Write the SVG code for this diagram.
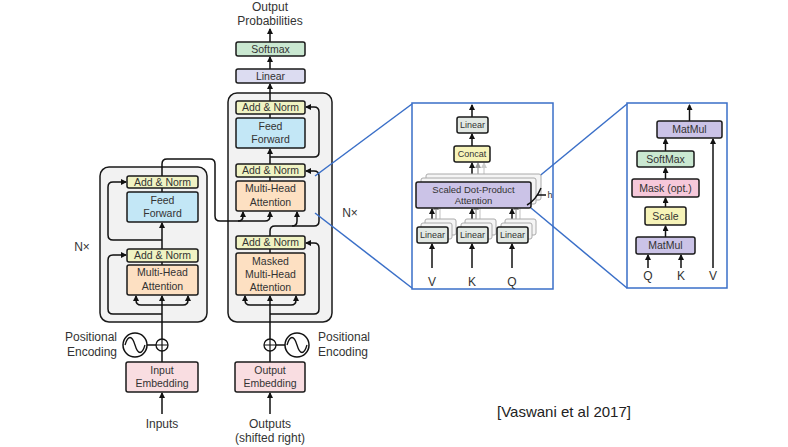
<svg xmlns="http://www.w3.org/2000/svg" width="788" height="447" viewBox="0 0 788 447">
<style>
text{font-family:"Liberation Sans",Arial,sans-serif;fill:#333;text-anchor:middle}
.t{font-size:10.5px}
.s{font-size:9px}
.s2{font-size:9.5px}
.l{font-size:12px}
.box{stroke:#1a1a1a;stroke-width:1.5}
.an{fill:#f0f3c3}
.ff{fill:#c3e7f6}
.mha{fill:#fde0c2}
.emb{fill:#f9dde1}
.lin{fill:#dcdcf1}
.sm{fill:#cae8d1}
.blk{fill:#f2f2f2;stroke:#1a1a1a;stroke-width:1.5}
.c{fill:none;stroke:#111;stroke-width:1.5}
.cg{fill:none;stroke:#999;stroke-width:1.2}
.cg2{fill:none;stroke:#ccc;stroke-width:1.2}
.blue{fill:none;stroke:#3a6fc8;stroke-width:1.5}
.pl{fill:#e2e8e3}
.cc{fill:#f7f4b9}
.pu{fill:#cbc3e7}
.mk{fill:#f6c8da}
.sc{fill:#f6f3b8}
.cp{fill:#f5f5f5;stroke:#aaa;stroke-width:1}
</style>
<defs>
<marker id="a" viewBox="0 0 6 6" refX="5" refY="3" markerWidth="6" markerHeight="6" markerUnits="userSpaceOnUse" orient="auto"><path d="M0,0 L6,3 L0,6 z" fill="#111"/></marker>
<marker id="ag" viewBox="0 0 6 6" refX="5" refY="3" markerWidth="6" markerHeight="6" markerUnits="userSpaceOnUse" orient="auto"><path d="M0,0 L6,3 L0,6 z" fill="#999"/></marker>
<marker id="ag2" viewBox="0 0 6 6" refX="5" refY="3" markerWidth="6" markerHeight="6" markerUnits="userSpaceOnUse" orient="auto"><path d="M0,0 L6,3 L0,6 z" fill="#ccc"/></marker>
</defs>

<!-- blocks -->
<g id="encoder-block"><rect class="blk" x="100" y="167" width="107" height="155" rx="9"/></g>
<g id="decoder-block"><rect class="blk" x="228" y="93" width="104" height="229" rx="9"/></g>

<!-- panels -->
<g id="panel-mha"><rect class="blue" x="412" y="103" width="141" height="186" fill="#fff"/></g>
<g id="panel-sdpa"><rect class="blue" x="627" y="103" width="100" height="185" fill="#fff"/></g>

<!-- connectors -->
<g id="connectors">
<!-- encoder -->
<path class="c" d="M162,414 V393" marker-end="url(#a)"/>
<path class="c" d="M162,362 V351"/>
<path class="c" d="M147,345 H156"/>
<path class="c" d="M162,339 V296" marker-end="url(#a)"/>
<path class="c" d="M162,305 H141 Q136,305 136,300 V296" marker-end="url(#a)"/>
<path class="c" d="M162,305 H183 Q188,305 188,300 V296" marker-end="url(#a)"/>
<path class="c" d="M162,314 H113 Q108,314 108,309 V260 Q108,255 113,255 H126" marker-end="url(#a)"/>
<path class="c" d="M162,265 V262"/>
<path class="c" d="M162,249 V223" marker-end="url(#a)"/>
<path class="c" d="M162,240 H113 Q108,240 108,235 V187 Q108,182 113,182 H126" marker-end="url(#a)"/>
<path class="c" d="M162,192 V188"/>
<path class="c" d="M162,176 V164 Q162,159 167,159 H210 Q215,159 215,164 V216 Q215,221 220,221 H238 Q243,221 243,216 V212" marker-end="url(#a)"/>
<path class="c" d="M238,221 H265 Q270,221 270,216 V212" marker-end="url(#a)"/>
<!-- decoder -->
<path class="c" d="M270,414 V393" marker-end="url(#a)"/>
<path class="c" d="M270,362 V351"/>
<path class="c" d="M276,345 H285"/>
<path class="c" d="M270,339 V296" marker-end="url(#a)"/>
<path class="c" d="M270,305 H250 Q245,305 245,300 V296" marker-end="url(#a)"/>
<path class="c" d="M270,305 H291 Q296,305 296,300 V296" marker-end="url(#a)"/>
<path class="c" d="M270,314 H314 Q319,314 319,309 V248 Q319,243 314,243 H306" marker-end="url(#a)"/>
<path class="c" d="M270,253 V249"/>
<path class="c" d="M270,236 V231 Q270,226 275,226 H314 Q319,226 319,221 V176 Q319,171 314,171 H306" marker-end="url(#a)"/>
<path class="c" d="M292,226 Q297,226 297,221 V212" marker-end="url(#a)"/>
<path class="c" d="M270,181 V177"/>
<path class="c" d="M270,164 V149" marker-end="url(#a)"/>
<path class="c" d="M270,157 H314 Q319,157 319,152 V112 Q319,107 314,107 H306" marker-end="url(#a)"/>
<path class="c" d="M270,118 V114"/>
<path class="c" d="M270,101 V84" marker-end="url(#a)"/>
<path class="c" d="M270,69 V57" marker-end="url(#a)"/>
<path class="c" d="M270,42 V29" marker-end="url(#a)"/>
<!-- zoom lines -->
<path class="blue" d="M315,176 L412,104"/>
<path class="blue" d="M315,213 L412,288"/>
<path class="blue" d="M531,183 L627,104"/>
<path class="blue" d="M531,208 L627,288"/>
<!-- panel 1 -->
<path class="c" d="M472,117 V105" marker-end="url(#a)"/>
<path class="c" d="M472,146 V134" marker-end="url(#a)"/>
<path class="cg2" d="M484,174 V163" marker-end="url(#ag2)"/>
<path class="cg" d="M478,178 V163" marker-end="url(#ag)"/>
<path class="c" d="M472,182 V163" marker-end="url(#a)"/>
<path class="c" d="M432,268 V244" marker-end="url(#a)"/>
<path class="c" d="M472,268 V244" marker-end="url(#a)"/>
<path class="c" d="M512,268 V244" marker-end="url(#a)"/>
<path class="cg2" d="M440,219 V201" marker-end="url(#ag2)"/><path class="cg" d="M436,223 V205" marker-end="url(#ag)"/>
<path class="c" d="M432,227 V209" marker-end="url(#a)"/>
<path class="cg2" d="M480,219 V201" marker-end="url(#ag2)"/><path class="cg" d="M476,223 V205" marker-end="url(#ag)"/>
<path class="c" d="M472,227 V209" marker-end="url(#a)"/>
<path class="cg2" d="M520,219 V201" marker-end="url(#ag2)"/><path class="cg" d="M516,223 V205" marker-end="url(#ag)"/>
<path class="c" d="M512,227 V209" marker-end="url(#a)"/>
</g>

<!-- encoder nodes -->
<g id="enc-addnorm2"><rect class="box an" x="127" y="176" width="71" height="12" rx="2"/><text class="t" x="162.5" y="186">Add &amp; Norm</text></g>
<g id="enc-ff"><rect class="box ff" x="127" y="192" width="71" height="30" rx="2"/><text class="t" x="162.5" y="204">Feed</text><text class="t" x="162.5" y="217">Forward</text></g>
<g id="enc-addnorm1"><rect class="box an" x="127" y="249" width="71" height="13" rx="2"/><text class="t" x="162.5" y="259">Add &amp; Norm</text></g>
<g id="enc-mha"><rect class="box mha" x="127" y="265" width="71" height="30" rx="2"/><text class="t" x="162.5" y="276">Multi-Head</text><text class="t" x="162.5" y="290">Attention</text></g>
<g id="enc-nx"><text class="l" x="82" y="251">N×</text></g>
<g id="enc-pe"><circle cx="135" cy="345" r="12" fill="#fff" stroke="#111" stroke-width="1.5"/><path d="M125,345 C128,335 132,335 135,345 C138,355 142,355 145,345" fill="none" stroke="#111" stroke-width="1.3"/>
<text class="l" x="117" y="341" style="text-anchor:end">Positional</text><text class="l" x="117" y="356" style="text-anchor:end">Encoding</text></g>
<g id="enc-add"><circle cx="162" cy="345" r="6" fill="#fff" stroke="#111" stroke-width="1.3"/><path d="M156,345 H168 M162,339 V351" stroke="#111" stroke-width="1.2"/></g>
<g id="enc-emb"><rect class="box emb" x="126" y="362" width="72" height="30" rx="2"/><text class="t" x="162" y="374">Input</text><text class="t" x="162" y="387">Embedding</text></g>
<g id="inputs"><text class="l" x="162" y="428">Inputs</text></g>

<!-- decoder nodes -->
<g id="out-prob"><text class="l" x="270" y="11">Output</text><text class="l" x="270" y="25">Probabilities</text></g>
<g id="softmax"><rect class="box sm" x="236" y="42" width="69" height="14" rx="2"/><text class="t" x="270.5" y="53">Softmax</text></g>
<g id="linear"><rect class="box lin" x="236" y="69" width="69" height="14" rx="2"/><text class="t" x="270.5" y="80">Linear</text></g>
<g id="dec-addnorm3"><rect class="box an" x="236" y="101" width="69" height="13" rx="2"/><text class="t" x="270.5" y="111">Add &amp; Norm</text></g>
<g id="dec-ff"><rect class="box ff" x="236" y="118" width="69" height="30" rx="2"/><text class="t" x="270.5" y="130">Feed</text><text class="t" x="270.5" y="143">Forward</text></g>
<g id="dec-addnorm2"><rect class="box an" x="236" y="164" width="69" height="13" rx="2"/><text class="t" x="270.5" y="174">Add &amp; Norm</text></g>
<g id="dec-mha"><rect class="box mha" x="236" y="181" width="69" height="30" rx="2"/><text class="t" x="270.5" y="192">Multi-Head</text><text class="t" x="270.5" y="206">Attention</text></g>
<g id="dec-addnorm1"><rect class="box an" x="236" y="236" width="69" height="13" rx="2"/><text class="t" x="270.5" y="246">Add &amp; Norm</text></g>
<g id="dec-mmha"><rect class="box mha" x="236" y="253" width="69" height="42" rx="2"/><text class="t" x="270.5" y="265">Masked</text><text class="t" x="270.5" y="278">Multi-Head</text><text class="t" x="270.5" y="291">Attention</text></g>
<g id="dec-nx"><text class="l" x="350" y="217">N×</text></g>
<g id="dec-add"><circle cx="270" cy="345" r="6" fill="#fff" stroke="#111" stroke-width="1.3"/><path d="M264,345 H276 M270,339 V351" stroke="#111" stroke-width="1.2"/></g>
<g id="dec-pe"><circle cx="297" cy="345" r="12" fill="#fff" stroke="#111" stroke-width="1.5"/><path d="M287,345 C290,335 294,335 297,345 C300,355 304,355 307,345" fill="none" stroke="#111" stroke-width="1.3"/>
<text class="l" x="318" y="341" style="text-anchor:start">Positional</text><text class="l" x="318" y="356" style="text-anchor:start">Encoding</text></g>
<g id="dec-emb"><rect class="box emb" x="235" y="362" width="70" height="30" rx="2"/><text class="t" x="270" y="374">Output</text><text class="t" x="270" y="387">Embedding</text></g>
<g id="outputs"><text class="l" x="270" y="428">Outputs</text><text class="l" x="270" y="442">(shifted right)</text></g>

<!-- panel 1 nodes -->
<g id="p1-linear-out"><rect class="box pl" x="457" y="117" width="31" height="16" rx="2"/><text class="s" x="472.5" y="128">Linear</text></g>
<g id="p1-concat"><rect class="box cc" x="454" y="146" width="36" height="16" rx="2"/><text class="s" x="472" y="157">Concat</text></g>
<g id="p1-lin-v">
<rect class="cp" x="425" y="219" width="31" height="16" rx="2"/><rect class="cp" x="421" y="223" width="31" height="16" rx="2"/>
<rect class="box pl" x="417" y="227" width="31" height="16" rx="2"/><text class="s" x="432.5" y="238">Linear</text><text class="l" x="432" y="286">V</text></g>
<g id="p1-lin-k">
<rect class="cp" x="465" y="219" width="31" height="16" rx="2"/><rect class="cp" x="461" y="223" width="31" height="16" rx="2"/>
<rect class="box pl" x="457" y="227" width="31" height="16" rx="2"/><text class="s" x="472.5" y="238">Linear</text><text class="l" x="472" y="286">K</text></g>
<g id="p1-lin-q">
<rect class="cp" x="505" y="219" width="31" height="16" rx="2"/><rect class="cp" x="501" y="223" width="31" height="16" rx="2"/>
<rect class="box pl" x="497" y="227" width="31" height="16" rx="2"/><text class="s" x="512.5" y="238">Linear</text><text class="l" x="512" y="286">Q</text></g>
<g id="p1-sdpa">
<rect class="cp" x="426" y="174" width="115" height="26" rx="2"/>
<rect class="cp" x="421" y="178" width="115" height="26" rx="2"/>
<rect class="box pu" x="416" y="182" width="115" height="26" rx="2"/>
<text class="s2" x="473.5" y="193">Scaled Dot-Product</text><text class="s2" x="473.5" y="204">Attention</text>
<path class="c" d="M527,205 Q536,200 541,188"/>
<path class="c" d="M537,195 H546" stroke-width="1"/>
<text class="s" x="550" y="198">h</text></g>

<!-- panel 2 nodes -->
<g id="p2-connectors">
<path class="c" d="M689.5,121 V105" marker-end="url(#a)"/>
<path class="c" d="M665.5,151 V139" marker-end="url(#a)"/>
<path class="c" d="M665.5,179 V168" marker-end="url(#a)"/>
<path class="c" d="M665.5,207 V198" marker-end="url(#a)"/>
<path class="c" d="M665.5,237 V226" marker-end="url(#a)"/>
<path class="c" d="M648,268 V255" marker-end="url(#a)"/>
<path class="c" d="M681,268 V255" marker-end="url(#a)"/>
<path class="c" d="M713,268 V139" marker-end="url(#a)"/>
</g>
<g id="p2-matmul2"><rect class="box pu" x="657" y="121" width="65" height="17" rx="2"/><text class="t" x="689.5" y="133">MatMul</text></g>
<g id="p2-softmax"><rect class="box sm" x="637" y="151" width="57" height="16" rx="2"/><text class="t" x="665.5" y="163">SoftMax</text></g>
<g id="p2-mask"><rect class="box mk" x="632" y="179" width="67" height="18" rx="2"/><text class="t" x="665.5" y="192">Mask (opt.)</text></g>
<g id="p2-scale"><rect class="box sc" x="645" y="207" width="41" height="18" rx="2"/><text class="t" x="665.5" y="220">Scale</text></g>
<g id="p2-matmul1"><rect class="box pu" x="636" y="237" width="59" height="17" rx="2"/><text class="t" x="665.5" y="249">MatMul</text></g>
<g id="p2-labels"><text class="l" x="648" y="280">Q</text><text class="l" x="681" y="280">K</text><text class="l" x="713" y="280">V</text></g>

<g id="citation"><text x="564" y="417" style="font-size:15px;fill:#222">[Vaswani et al 2017]</text></g>
</svg>
